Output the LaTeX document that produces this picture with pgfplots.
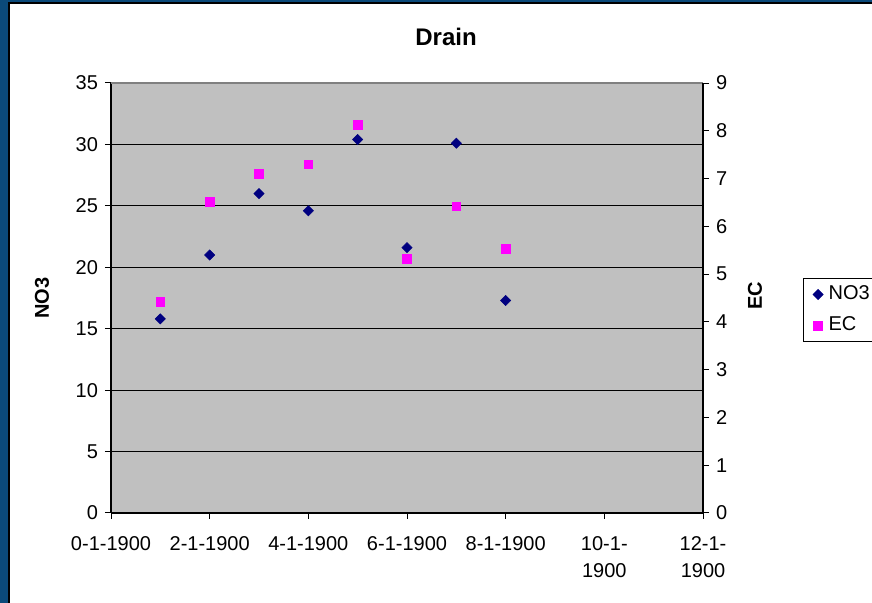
\documentclass[border=0pt]{standalone}
\usepackage{fontspec}
\setmainfont{Liberation Sans}
\usepackage{pgfplots}
\pgfplotsset{compat=1.18}
\definecolor{navy}{HTML}{000080}
\definecolor{mag}{HTML}{FF00FF}
\definecolor{plotgray}{HTML}{C0C0C0}
\definecolor{frameblue}{HTML}{0B4A7A}
\pgfplotsset{
  common/.style={
    at={(55.5pt,45pt)}, anchor=south west,
    scale only axis, width=296pt, height=215pt,
    xmin=0, xmax=12, ymin=0,
    axis line style={-, black, line width=0.6pt},
    tick style={black, line width=0.5pt},
    tick align=outside, major tick length=3pt,
    /pgf/number format/assume math mode=true,
    tick label style={font=\fontsize{10}{13.5}\selectfont},
    label style={font=\bfseries\fontsize{10}{12}\selectfont},
  }
}
\begin{document}
\begin{tikzpicture}
\useasboundingbox (0,0) rectangle (436pt,301.5pt);
\fill[white] (0,0) rectangle (436pt,301.5pt);
\fill[frameblue] (0,0) rectangle (3.8pt,301.5pt);
\fill[frameblue] (0,300.4pt) rectangle (436pt,301.5pt);
\draw[black, line width=0.8pt] (4.6pt,0) -- (4.6pt,300pt) -- (436pt,300pt);
\begin{axis}[common,
  ymax=35,
  axis background/.style={fill=plotgray},
  axis x line*=bottom, axis y line*=left,
  xtick={0,2,...,12},
  xticklabels={0-1-1900,2-1-1900,4-1-1900,6-1-1900,8-1-1900,{10-1-\\1900},{12-1-\\1900}},
  xticklabel style={align=center, anchor=north, yshift=-5pt},
  ytick={0,5,...,30},
  extra y ticks={35}, extra y tick style={grid=none},
  ymajorgrids, grid style={black, line width=0.5pt},
  ylabel={NO3},
  ylabel style={at={(axis description cs:-0.1166,0.5)}, anchor=center},
  title={Drain},
  title style={at={(axis description cs:0.566,1.079)}, anchor=center, font=\bfseries\fontsize{12}{14}\selectfont},
  after end axis/.code={\draw[color=gray, line width=0.6pt] (rel axis cs:0,1) -- (rel axis cs:1,1);},
]
\addplot[only marks, mark=square*, color=navy, mark options={rotate=45, line width=0.3pt}, mark size=1.8pt]
coordinates {(1,15.8) (2,21.0) (3,26.0) (4,24.6) (5,30.4) (6,21.6) (7,30.1) (8,17.3)};
\end{axis}
\begin{axis}[common,
  ymax=9,
  axis x line=none, axis y line*=right,
  ytick={0,1,...,9},
  ylabel={EC},
  ylabel style={at={(axis description cs:1.088,0.505)}, anchor=center},
  legend style={at={(axis description cs:1.169,0.5465)}, anchor=north west,
    draw=black, fill=white, line width=0.5pt, font=\fontsize{10}{12}\selectfont,
    row sep=3pt, inner xsep=2pt, inner ysep=1.75pt,
    nodes={text width=26pt, align=left}},
  legend cell align=left,
  legend image code/.code={\path[draw=none] (0pt,0pt) -- (8.5pt,0pt); \draw plot coordinates {(5.25pt,0pt)};},
]
\addlegendimage{only marks, mark=square*, color=navy, mark options={rotate=45, line width=0.3pt}, mark size=1.8pt}
\addlegendentry{NO3}
\addplot[only marks, mark=square*, color=mag, mark options={line width=0.3pt}, mark size=2.2pt]
coordinates {(1,4.42) (2,6.51) (3,7.10) (4,7.30) (5,8.12) (6,5.32) (7,6.42) (8,5.53)};
\addlegendentry{EC}
\end{axis}
\end{tikzpicture}
\end{document}
